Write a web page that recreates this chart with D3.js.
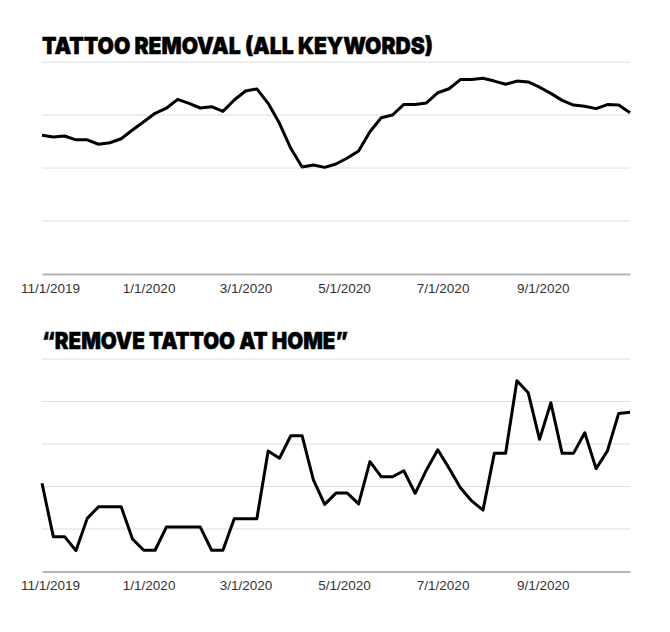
<!DOCTYPE html>
<html>
<head>
<meta charset="utf-8">
<script src="https://cdn.jsdelivr.net/npm/d3@7"></script>
<style>
body { margin: 0; background: #fff; }
.title { font-family: Inter, "Open Sans", sans-serif; font-weight: 900; font-size: 23px; fill: #000; stroke: #000; stroke-width: 0.5px; }
.xaxis text { font-family: "Liberation Sans", Arial, sans-serif; font-size: 13.5px; fill: #333; }
</style>
</head>
<body>
<div id="chart"></div>
<script>
// weekly categories (Google Trends style)
const weeks = [
  "2019-10-27","2019-11-03","2019-11-10","2019-11-17","2019-11-24","2019-12-01","2019-12-08",
  "2019-12-15","2019-12-22","2019-12-29","2020-01-05","2020-01-12","2020-01-19","2020-01-26",
  "2020-02-02","2020-02-09","2020-02-16","2020-02-23","2020-03-01","2020-03-08","2020-03-15",
  "2020-03-22","2020-03-29","2020-04-05","2020-04-12","2020-04-19","2020-04-26","2020-05-03",
  "2020-05-10","2020-05-17","2020-05-24","2020-05-31","2020-06-07","2020-06-14","2020-06-21",
  "2020-06-28","2020-07-05","2020-07-12","2020-07-19","2020-07-26","2020-08-02","2020-08-09",
  "2020-08-16","2020-08-23","2020-08-30","2020-09-06","2020-09-13","2020-09-20","2020-09-27",
  "2020-10-04","2020-10-11","2020-10-18","2020-10-25"
];

const allKeywords = [
  65.4, 64.6, 65.1, 63.3, 63.3, 61.2, 61.9, 63.8, 67.9, 71.8,
  75.8, 78.2, 82.4, 80.5, 78.3, 78.9, 76.7, 82.1, 86.3, 87.3,
  80.5, 71.1, 59.3, 50.5, 51.4, 50.3, 51.9, 54.7, 58.0, 67.1,
  73.7, 75.0, 80.0, 80.0, 80.7, 85.5, 87.4, 91.7, 91.7, 92.3,
  91.0, 89.5, 91.0, 90.6, 88.1, 85.2, 81.9, 79.7, 79.1, 78.0,
  79.9, 79.7, 76.1
];

const atHome = [
  41.5, 16.4, 16.4, 9.8, 25.0, 30.5, 30.5, 30.5, 15.3, 10.0,
  10.0, 20.9, 20.9, 20.9, 20.9, 10.0, 10.0, 24.8, 24.8, 24.8,
  56.7, 53.3, 63.9, 63.9, 43.1, 31.6, 36.9, 36.9, 31.8, 51.7,
  44.6, 44.6, 47.4, 36.8, 47.8, 57.3, 48.6, 39.4, 33.2, 28.9,
  55.6, 55.6, 89.8, 84.1, 62.2, 79.4, 55.6, 55.6, 65.3, 48.4,
  56.7, 74.4, 74.9
];

const tickDates = ["2019-11-01","2020-01-01","2020-03-01","2020-05-01","2020-07-01","2020-09-01"];
const topGrid = [0, 25, 50, 75, 100];
const bottomGrid = [0, 20, 40, 60, 80, 100];

const width = 670, height = 632;
const parse = d3.timeParse("%Y-%m-%d");
const fmt = d3.timeFormat("%-m/%-d/%Y");

const svg = d3.select("#chart").append("svg")
  .attr("width", width)
  .attr("height", height);

const x = d3.scaleTime()
  .domain([parse(weeks[0]), parse(weeks[weeks.length - 1])])
  .range([42, 630]);

function panel(title, titleY, titleW, values, grid, y0, y1) {
  const y = d3.scaleLinear().domain([0, 100]).range([y0, y1]);
  const g = svg.append("g");

  g.append("text")
    .attr("class", "title")
    .attr("x", 42)
    .attr("y", titleY)
    .attr("textLength", titleW)
    .attr("lengthAdjust", "spacingAndGlyphs")
    .text(title);

  // horizontal gridlines
  g.selectAll("line.grid")
    .data(grid.slice(1))
    .enter().append("line")
    .attr("class", "grid")
    .attr("x1", x.range()[0]).attr("x2", x.range()[1])
    .attr("y1", d => y(d)).attr("y2", d => y(d))
    .attr("stroke", "#dcdcdc")
    .attr("stroke-width", 1);

  const ax = g.append("g")
    .attr("class", "xaxis")
    .attr("transform", "translate(0," + y(0) + ")")
    .call(d3.axisBottom(x)
      .tickValues(tickDates.map(parse))
      .tickFormat(fmt)
      .tickSize(0)
      .tickPadding(9));
  ax.select(".domain").attr("stroke", "#b5b5b5").attr("stroke-width", 2);

  const data = weeks.map((w, i) => ({ date: parse(w), value: values[i] }));
  g.append("path")
    .datum(data)
    .attr("fill", "none")
    .attr("stroke", "#000")
    .attr("stroke-width", 3)
    .attr("stroke-linejoin", "round")
    .attr("d", d3.line().x(d => x(d.date)).y(d => y(d.value)));
}

panel("TATTOO REMOVAL (ALL KEYWORDS)", 53.5, 391, allKeywords, topGrid, 274, 62);
panel("\u201CREMOVE TATTOO AT HOME\u201D", 348.5, 306, atHome, bottomGrid, 571.5, 359);
</script>
</body>
</html>
